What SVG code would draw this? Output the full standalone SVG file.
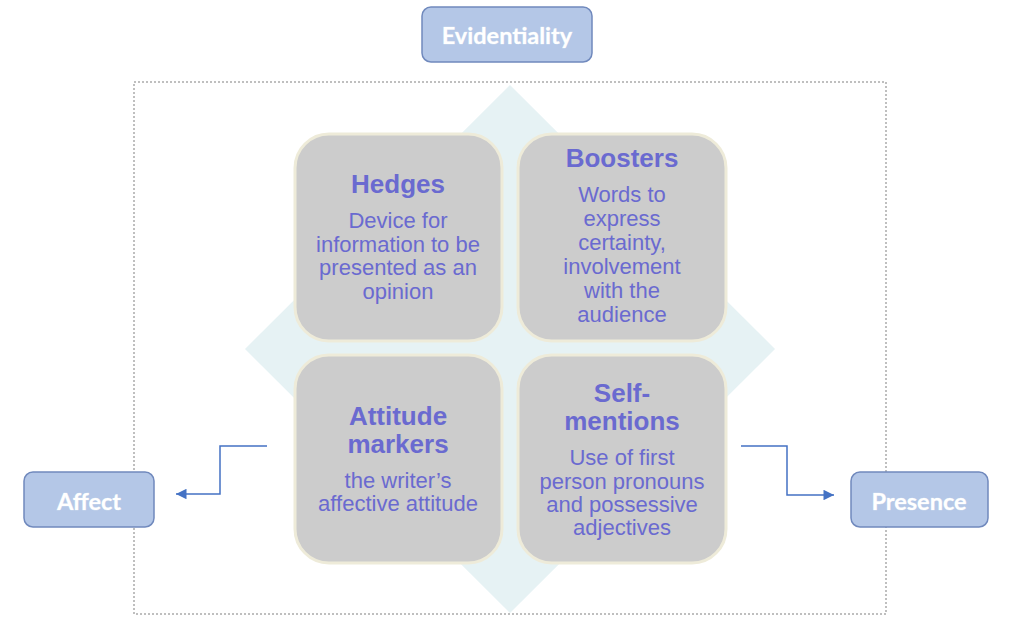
<svg xmlns="http://www.w3.org/2000/svg" width="1027" height="626" viewBox="0 0 1027 626">
<style>
.lbl{fill:#b4c7e7;stroke:#7089bd;stroke-width:1.5}
.lt{font-family:Lato,"Open Sans",sans-serif;font-weight:bold;font-size:23.5px;fill:#ffffff;text-anchor:middle;stroke:#d9e2f0;stroke-width:0.6;paint-order:stroke}
.card{fill:#cccccc;stroke:#eeebd9;stroke-width:3}
.tt{font-family:"Liberation Sans",Arial,sans-serif;font-weight:bold;font-size:26px;fill:#6a6ad0;text-anchor:middle}
.bt{font-family:"Liberation Sans",Arial,sans-serif;font-size:22px;fill:#6a6ad0;text-anchor:middle}
.conn{fill:none;stroke:#4472c4;stroke-width:1.5}
</style>
<defs>
<marker id="ah" viewBox="0 0 10 10" refX="10" refY="5" markerWidth="7.5" markerHeight="7" orient="auto" markerUnits="strokeWidth">
<path d="M0,0 L10,5 L0,10 z" fill="#4472c4"/>
</marker>
</defs>
<rect width="1027" height="626" fill="#ffffff"/>
<g id="background">
<rect x="134" y="82" width="752" height="532" fill="none" stroke="#bfbfbf" stroke-width="2" stroke-dasharray="2,2"/>
<polygon points="510,85 775,349 510,613 245,349" fill="#e6f2f4"/>
</g>
<g id="evidentiality">
<rect class="lbl" x="422" y="7" width="170" height="55" rx="9"/>
<text class="lt" x="507" y="44">Evidentiality</text>
</g>
<g id="affect">
<rect class="lbl" x="24" y="472" width="130" height="55" rx="9"/>
<text class="lt" x="89" y="510">Affect</text>
</g>
<g id="presence">
<rect class="lbl" x="851" y="472" width="137" height="55" rx="9"/>
<text class="lt" x="919" y="510">Presence</text>
</g>
<g id="hedges">
<rect class="card" x="295" y="134" width="207" height="207" rx="34"/>
<text class="tt" x="398" y="193">Hedges</text>
<text class="bt" x="398" y="228">Device for</text>
<text class="bt" x="398" y="252">information to be</text>
<text class="bt" x="398" y="275">presented as an</text>
<text class="bt" x="398" y="299">opinion</text>
</g>
<g id="boosters">
<rect class="card" x="518" y="134" width="208" height="207" rx="34"/>
<text class="tt" x="622" y="167">Boosters</text>
<text class="bt" x="622" y="202">Words to</text>
<text class="bt" x="622" y="226">express</text>
<text class="bt" x="622" y="250">certainty,</text>
<text class="bt" x="622" y="274">involvement</text>
<text class="bt" x="622" y="298">with the</text>
<text class="bt" x="622" y="322">audience</text>
</g>
<g id="attitude-markers">
<rect class="card" x="295" y="355" width="207" height="208" rx="34"/>
<text class="tt" x="398" y="425">Attitude</text>
<text class="tt" x="398" y="453">markers</text>
<text class="bt" x="398" y="488">the writer’s</text>
<text class="bt" x="398" y="511">affective attitude</text>
</g>
<g id="self-mentions">
<rect class="card" x="518" y="355" width="208" height="208" rx="34"/>
<text class="tt" x="622" y="402">Self-</text>
<text class="tt" x="622" y="430">mentions</text>
<text class="bt" x="622" y="465">Use of first</text>
<text class="bt" x="622" y="489">person pronouns</text>
<text class="bt" x="622" y="512">and possessive</text>
<text class="bt" x="622" y="535">adjectives</text>
</g>
<g id="connectors">
<polyline class="conn" points="267,446 220,446 220,494 176,494" marker-end="url(#ah)"/>
<polyline class="conn" points="741,446 787,446 787,495 834,495" marker-end="url(#ah)"/>
</g>
</svg>
